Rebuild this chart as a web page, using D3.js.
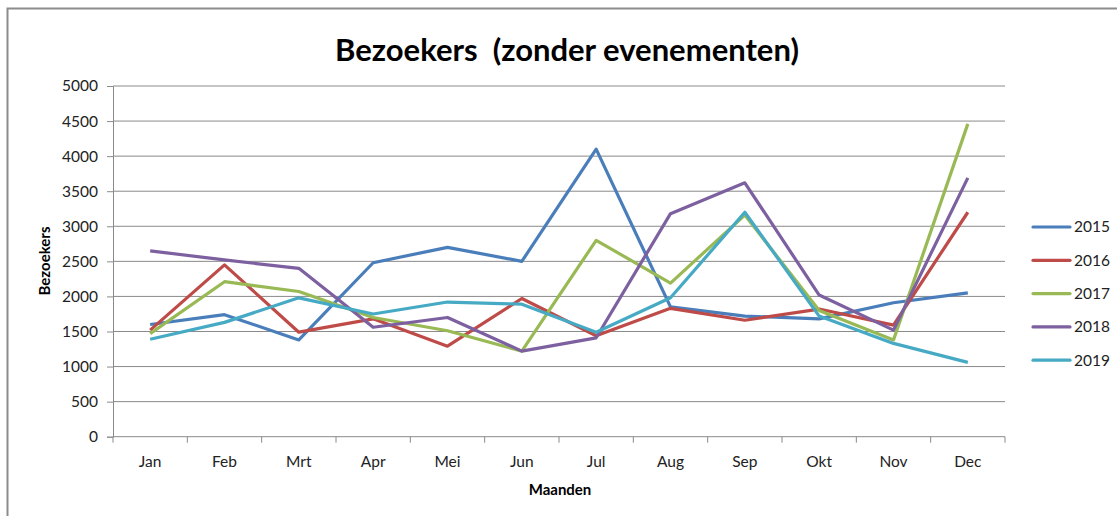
<!DOCTYPE html>
<html>
<head>
<meta charset="utf-8">
<script src="https://cdn.jsdelivr.net/npm/d3@7"></script>
<style>
  html, body { margin: 0; padding: 0; background: #fff; }
  svg { display: block; font-family: Lato, "Liberation Sans", sans-serif; }
</style>
</head>
<body>
<svg id="chart" width="1117" height="516"></svg>
<script>
// chart data
const months = ['Jan', 'Feb', 'Mrt', 'Apr', 'Mei', 'Jun', 'Jul', 'Aug', 'Sep', 'Okt', 'Nov', 'Dec'];
const years = ['2015', '2016', '2017', '2018', '2019'];
const v2015 = [1600, 1740, 1380, 2480, 2700, 2500, 4100, 1850, 1720, 1680, 1910, 2050];
const v2016 = [1520, 2450, 1490, 1680, 1290, 1970, 1440, 1830, 1660, 1820, 1590, 3200];
const v2017 = [1470, 2210, 2070, 1700, 1510, 1220, 2800, 2190, 3160, 1800, 1380, 4460];
const v2018 = [2650, 2520, 2400, 1560, 1700, 1220, 1410, 3180, 3620, 2020, 1520, 3690];
const v2019 = [1390, 1630, 1980, 1750, 1920, 1890, 1490, 1980, 3200, 1720, 1330, 1060];
const yTicks = [0, 500, 1000, 1500, 2000, 2500, 3000, 3500, 4000, 4500, 5000];
const colors = ['#4a7ebb', '#be4b48', '#98b954', '#7d60a0', '#46aac5'];

const series = [v2015, v2016, v2017, v2018, v2019].map((vals, i) => ({
  name: years[i],
  color: colors[i],
  values: vals
}));

const margin = { top: 86, right: 112, bottom: 79.3, left: 113 };
const W = 1117, H = 516;
const gridColor = '#8a8a8a';

const svg = d3.select('#chart');

// outer frame (only top and left edges are visible)
svg.append('path')
  .attr('d', `M7.5,${H} V8.5 H${W}`)
  .attr('fill', 'none')
  .attr('stroke', '#8c8c8c')
  .attr('stroke-width', 2);

const x = d3.scaleBand()
  .domain(months)
  .range([margin.left, W - margin.right])
  .padding(0);
const y = d3.scaleLinear()
  .domain([0, 5000])
  .range([H - margin.bottom, margin.top]);

const xc = m => x(m) + x.bandwidth() / 2;

// horizontal gridlines
svg.append('g')
  .selectAll('line')
  .data(yTicks.filter(t => t > 0))
  .join('line')
  .attr('x1', margin.left)
  .attr('x2', W - margin.right)
  .attr('y1', d => y(d))
  .attr('y2', d => y(d))
  .attr('stroke', gridColor)
  .attr('stroke-width', 1);

// y axis
const yAxis = svg.append('g')
  .attr('transform', `translate(${margin.left},0)`)
  .call(d3.axisLeft(y).tickValues(yTicks).tickSize(6).tickPadding(9).tickFormat(d3.format('d')));
yAxis.select('.domain').attr('stroke', gridColor);
yAxis.selectAll('.tick line').attr('stroke', gridColor);
yAxis.selectAll('.tick text')
  .attr('fill', '#222')
  .style('font-size', '15.5px')
  .style('font-family', 'Lato, "Liberation Sans", sans-serif');

// x axis line with ticks on the band edges
const xAxis = svg.append('g');
xAxis.append('line')
  .attr('x1', margin.left)
  .attr('x2', W - margin.right)
  .attr('y1', y(0))
  .attr('y2', y(0))
  .attr('stroke', gridColor);
const edges = months.map(m => x(m)).concat([W - margin.right]);
xAxis.selectAll('line.tk')
  .data(edges)
  .join('line')
  .attr('class', 'tk')
  .attr('x1', d => d)
  .attr('x2', d => d)
  .attr('y1', y(0))
  .attr('y2', y(0) + 6)
  .attr('stroke', gridColor);
xAxis.selectAll('text')
  .data(months)
  .join('text')
  .attr('x', d => xc(d))
  .attr('y', y(0) + 30)
  .attr('text-anchor', 'middle')
  .attr('fill', '#222')
  .style('font-size', '15.5px')
  .text(d => d);

// lines
const line = d3.line()
  .x((d, i) => xc(months[i]))
  .y(d => y(d));

svg.append('g')
  .selectAll('path')
  .data(series)
  .join('path')
  .attr('d', d => line(d.values))
  .attr('fill', 'none')
  .attr('stroke', d => d.color)
  .attr('stroke-width', 3.2)
  .attr('stroke-linejoin', 'round');

// titles
svg.append('text')
  .attr('x', 567)
  .attr('y', 61)
  .attr('text-anchor', 'middle')
  .style('font-size', '31px')
  .style('font-weight', 'bold')
  .attr('fill', '#000')
  .text('Bezoekers  (zonder evenementen)')
  .style('white-space', 'pre');

svg.append('text')
  .attr('transform', 'translate(50,261) rotate(-90)')
  .attr('text-anchor', 'middle')
  .style('font-size', '15px')
  .style('font-weight', 'bold')
  .attr('fill', '#000')
  .text('Bezoekers');

svg.append('text')
  .attr('x', 560)
  .attr('y', 495)
  .attr('text-anchor', 'middle')
  .style('font-size', '15px')
  .style('font-weight', 'bold')
  .attr('fill', '#000')
  .text('Maanden');

// legend
const legend = svg.append('g')
  .selectAll('g')
  .data(series)
  .join('g')
  .attr('transform', (d, i) => `translate(1033,${227 + i * 33.3})`);
legend.append('line')
  .attr('x1', 0)
  .attr('x2', 37)
  .attr('stroke', d => d.color)
  .attr('stroke-width', 3.2)
  .attr('stroke-linecap', 'round');
legend.append('text')
  .attr('x', 41)
  .attr('dy', '0.35em')
  .attr('fill', '#222')
  .style('font-size', '15.5px')
  .text(d => d.name);
</script>
</body>
</html>
